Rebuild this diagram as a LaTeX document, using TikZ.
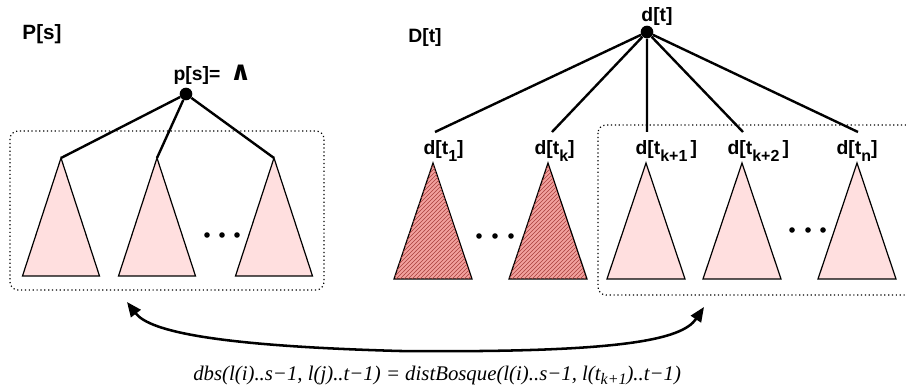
\documentclass[tikz,border=0pt]{standalone}
\usepackage{amsmath}
\usepackage{fontspec}
\setmainfont{Liberation Serif}
\setsansfont{Liberation Sans}
\newfontfamily\symfont{DejaVu Sans}
\usetikzlibrary{arrows.meta,patterns}
\definecolor{trfill}{HTML}{FFDFDF}
\definecolor{trdone}{HTML}{F2A09D}
\definecolor{trhatch}{HTML}{A8403D}
\newcommand{\tsub}[1]{\raisebox{-5pt}{\fontsize{12}{13}\selectfont#1}}
\tikzset{
  root/.style={circle,fill=black,inner sep=0pt,minimum size=9.5pt},
  lbl/.style={font=\sffamily\bfseries\fontsize{14.5}{16}\selectfont,inner sep=1pt},
  branch/.style={draw=black,line width=1.8pt},
  subtree/.style={draw=black,line width=.9pt,fill=trfill},
  donetree/.style={draw=black,line width=.9pt,fill=trdone,postaction={pattern=north east lines,pattern color=trhatch}},
  forest/.style={draw=black,dotted,line width=.9pt,rounded corners=6pt},
  dot/.style={circle,fill=black,inner sep=0pt,minimum size=4.2pt},
  link/.style={{Triangle[length=11pt,width=9pt]}-{Triangle[length=11pt,width=9pt]},line width=1.9pt},
  formula/.style={font=\itshape\fontsize{15.6}{18}\selectfont,inner sep=0pt},
}
\begin{document}
\begin{tikzpicture}[x=.75pt,y=-.75pt]
  \useasboundingbox (0,0) rectangle (906,391);
  % left forest P[s]
  \node[lbl] (Ps) at (42,34) {\fontsize{15.5}{17}\selectfont P[s]};
  \draw[forest] (10,131) rectangle (324,290);
  \coordinate (a1) at (61,158);
  \coordinate (a2) at (157,158);
  \coordinate (a3) at (274,158);
  \draw[subtree] (a1) -- ++(38.5,118) -- ++(-77,0) -- cycle;
  \draw[subtree] (a2) -- ++(38.5,118) -- ++(-77,0) -- cycle;
  \draw[subtree] (a3) -- ++(38.5,118) -- ++(-77,0) -- cycle;
  \node[root] (p) at (186,94) {};
  \node[lbl,anchor=base west] (pval) at (172,81) {p[s]=\,\,\,{\symfont\fontsize{20}{20}\selectfont ∧}};
  \draw[branch] (p) -- (a1) (p) -- (a2) (p) -- (a3);
  \node[dot] (pd1) at (207,235) {};
  \node[dot] (pd2) at (222,235) {};
  \node[dot] (pd3) at (237,235) {};
  % right forest D[t]
  \node[lbl] (Dt) at (425,38) {D[t]};
  \draw[forest] (598,125) rectangle (918,295);
  \coordinate (b1) at (433,163);
  \coordinate (bk) at (548,163);
  \coordinate (bk1) at (646,163);
  \coordinate (bk2) at (742,163);
  \coordinate (bn) at (857,163);
  \draw[donetree] (b1) -- ++(39,116) -- ++(-78,0) -- cycle;
  \draw[donetree] (bk) -- ++(39,116) -- ++(-78,0) -- cycle;
  \draw[subtree] (bk1) -- ++(39,116) -- ++(-78,0) -- cycle;
  \draw[subtree] (bk2) -- ++(39,116) -- ++(-78,0) -- cycle;
  \draw[subtree] (bn) -- ++(39,116) -- ++(-78,0) -- cycle;
  \node[root] (d) at (647,32) {};
  \node[lbl,anchor=base] (dval) at (657,22) {d[t]};
  \node[lbl,anchor=base west] (t1) at (422,155) {d[t\tsub{1}]};
  \node[lbl,anchor=base west] (tk) at (533,155) {d[t\tsub{k}]};
  \node[lbl,anchor=base west] (tk1) at (634,155) {d[t\tsub{k+1}\,]};
  \node[lbl,anchor=base west] (tk2) at (726,155) {d[t\tsub{k+2}\,]};
  \node[lbl,anchor=base west] (tn) at (835,155) {d[t\tsub{n}]};
  \coordinate (e1) at (435,132);
  \coordinate (ek) at (552,132);
  \coordinate (ek1) at (647,132);
  \coordinate (ek2) at (743,132);
  \coordinate (en) at (858,132);
  \draw[branch] (d) -- (e1) (d) -- (ek) (d) -- (ek1) (d) -- (ek2) (d) -- (en);
  \node[dot] (dd1) at (479,236) {};
  \node[dot] (dd2) at (495,236) {};
  \node[dot] (dd3) at (511,236) {};
  \node[dot] (dd4) at (792,230) {};
  \node[dot] (dd5) at (808,230) {};
  \node[dot] (dd6) at (823,230) {};
  % correspondence
  \coordinate (arrL) at (127,302);
  \coordinate (arrR) at (704,307);
  \draw[link] (arrL) .. controls (150,332) and (220,346) .. (400,351) .. controls (620,353) and (682,340) .. (arrR);
  \node[formula,anchor=base west] (eq) at (193,380) {dbs(l(i)..s\textminus1, l(j)..t\textminus1) = distBosque(l(i)..s\textminus1, l(t\raisebox{-3pt}{\fontsize{12}{13}\selectfont k+1})..t\textminus1)};
\end{tikzpicture}
\end{document}
